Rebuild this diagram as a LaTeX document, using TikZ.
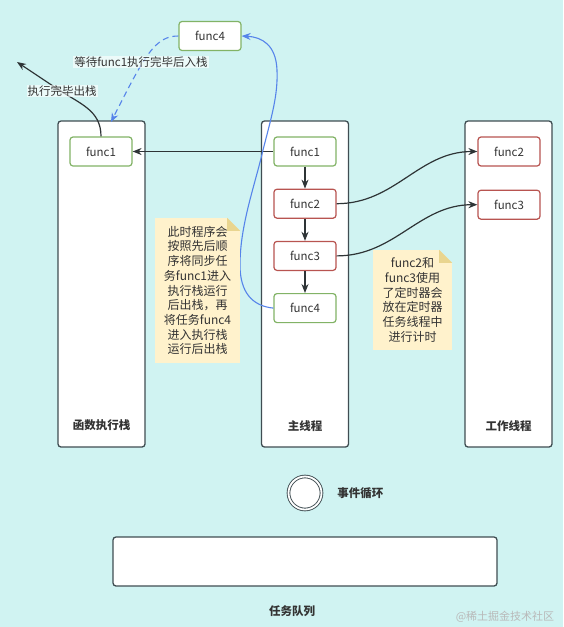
\documentclass[tikz,border=0pt]{standalone}
\usepackage{fontspec}
\setmainfont{Noto Sans CJK SC}
\usetikzlibrary{arrows.meta, positioning}

\definecolor{bgcyan}{RGB}{208,243,242}
\definecolor{textgray}{HTML}{333333}
\definecolor{colline}{HTML}{3F4D52}
\definecolor{arrowdark}{HTML}{2E3436}
\definecolor{linkblue}{RGB}{86,132,234}
\definecolor{fngreen}{HTML}{82B366}
\definecolor{fnred}{HTML}{B85450}
\definecolor{notefill}{HTML}{FFF2CC}
\definecolor{notefold}{HTML}{E9D58F}

\begin{document}
\begin{tikzpicture}[x=1pt, y=-1pt,
      font=\fontsize{11.5}{14.7}\selectfont, text=textgray,
      column/.style={rectangle, draw=colline, line width=1.3pt, rounded corners=3pt, fill=white, minimum width=87pt, minimum height=326pt},
      fn/.style={rectangle, line width=1.2pt, rounded corners=3pt, fill=white, minimum width=62pt, minimum height=29pt, inner sep=0pt},
      greenfn/.style={fn, draw=fngreen},
      redfn/.style={fn, draw=fnred},
      collabel/.style={font=\bfseries\fontsize{11.5}{14}\selectfont},
      note/.style={rectangle, fill=notefill, align=center, inner sep=0pt, font=\fontsize{12}{14.7}\selectfont},
      loopnode/.style={circle, draw=colline, line width=0.9pt, double=white, double distance=1.8pt, fill=white, minimum size=33pt},
      queue/.style={rectangle, draw=colline, line width=1.3pt, rounded corners=3pt, fill=white, minimum width=384pt, minimum height=49pt},
      tag/.style={fill=white, fill opacity=0.6, text opacity=1, inner sep=1pt},
      arrow/.style={-{Stealth[length=9pt,width=7pt]}, line width=1.2pt, draw=arrowdark},
      bluearrow/.style={arrow, draw=linkblue, line width=1.1pt}
    ]

    \fill[bgcyan] (0,0) rectangle (563,627);
    \useasboundingbox (0,0) rectangle (563,627);

    \node[column] (stack) at (101.5,284) {};
    \node[column] (main) at (305,284) {};
    \node[column] (worker) at (508.5,284) {};
    \node[collabel, above=13pt of stack.south] (stacklbl) {函数执行栈};
    \node[collabel, above=13pt of main.south] (mainlbl) {主线程};
    \node[collabel, above=13pt of worker.south] (workerlbl) {工作线程};

    \node[greenfn] (mf1) at (305,151.5) {func1};
    \node[redfn, below=22pt of mf1] (mf2) {func2};
    \node[redfn, below=22pt of mf2] (mf3) {func3};
    \node[greenfn, below=22pt of mf3] (mf4) {func4};
    \node[greenfn] (sf1) at (101,151.5) {func1};
    \node[redfn] (wf2) at (509,151.5) {func2};
    \node[redfn, below=23pt of wf2] (wf3) {func3};
    \node[greenfn] (tf4) at (210,36) {func4};

    \coordinate (stacktop) at (111,122);
    \coordinate (exit) at (17,62);

    \draw[arrow] (mf1) -- (sf1);
    \draw[arrow] (mf1) -- (mf2);
    \draw[arrow] (mf2) -- (mf3);
    \draw[arrow] (mf3) -- (mf4);
    \draw[arrow] (mf2.east) to[out=0, in=180] (wf2.west);
    \draw[arrow] (mf3.east) to[out=0, in=180] (wf3.west);
    \draw[bluearrow] (mf4.west) .. controls (252,306) and (240,292) .. (240,265)
      .. controls (240,225) and (255,185) .. (263,150)
      .. controls (272,115) and (278,95) .. (277,70)
      .. controls (276,45) and (262,37) .. (tf4.east);
    \draw[bluearrow, dash pattern=on 6pt off 4pt] (tf4.west) .. controls (155,36) and (145,55) .. (stacktop);
    \draw[arrow] (sf1.north) .. controls (101,110) and (80,104) .. (56,88) -- (exit);
    \node[tag] (waitlbl) at (141,62) {等待func1执行完毕后入栈};
    \node[tag] (exitlbl) at (62,91) {执行完毕出栈};

    \node[note, minimum width=85pt, minimum height=145pt] (leftnote) at (197.5,290.5)
      {此时程序会\\按照先后顺\\序将同步任\\务func1进入\\执行栈运行\\后出栈，再\\将任务func4\\进入执行栈\\运行后出栈};
    \node[note, minimum width=79pt, minimum height=100pt] (rightnote) at (412.5,300)
      {func2和\\func3使用\\了定时器会\\放在定时器\\任务线程中\\进行计时};
    \fill[bgcyan] (leftnote.north east) -- ++(-13,0) -- ++(13,13) -- cycle;
    \fill[notefold] (leftnote.north east) ++(-13,0) -- ++(0,13) -- ++(13,0) -- cycle;
    \fill[bgcyan] (rightnote.north east) -- ++(-13,0) -- ++(13,13) -- cycle;
    \fill[notefold] (rightnote.north east) ++(-13,0) -- ++(0,13) -- ++(13,0) -- cycle;

    \node[loopnode] (loop) at (305,493) {};
    \node[collabel, right=12pt of loop] (looplbl) {事件循环};
    \node[queue] (queue) at (305,561.5) {};
    \node[collabel] (queuelbl) at (292,611) {任务队列};
    \node[font=\fontsize{11}{12}\selectfont, text=gray!55] (mark) at (505,617) {@稀土掘金技术社区};
  \end{tikzpicture}
\end{document}
